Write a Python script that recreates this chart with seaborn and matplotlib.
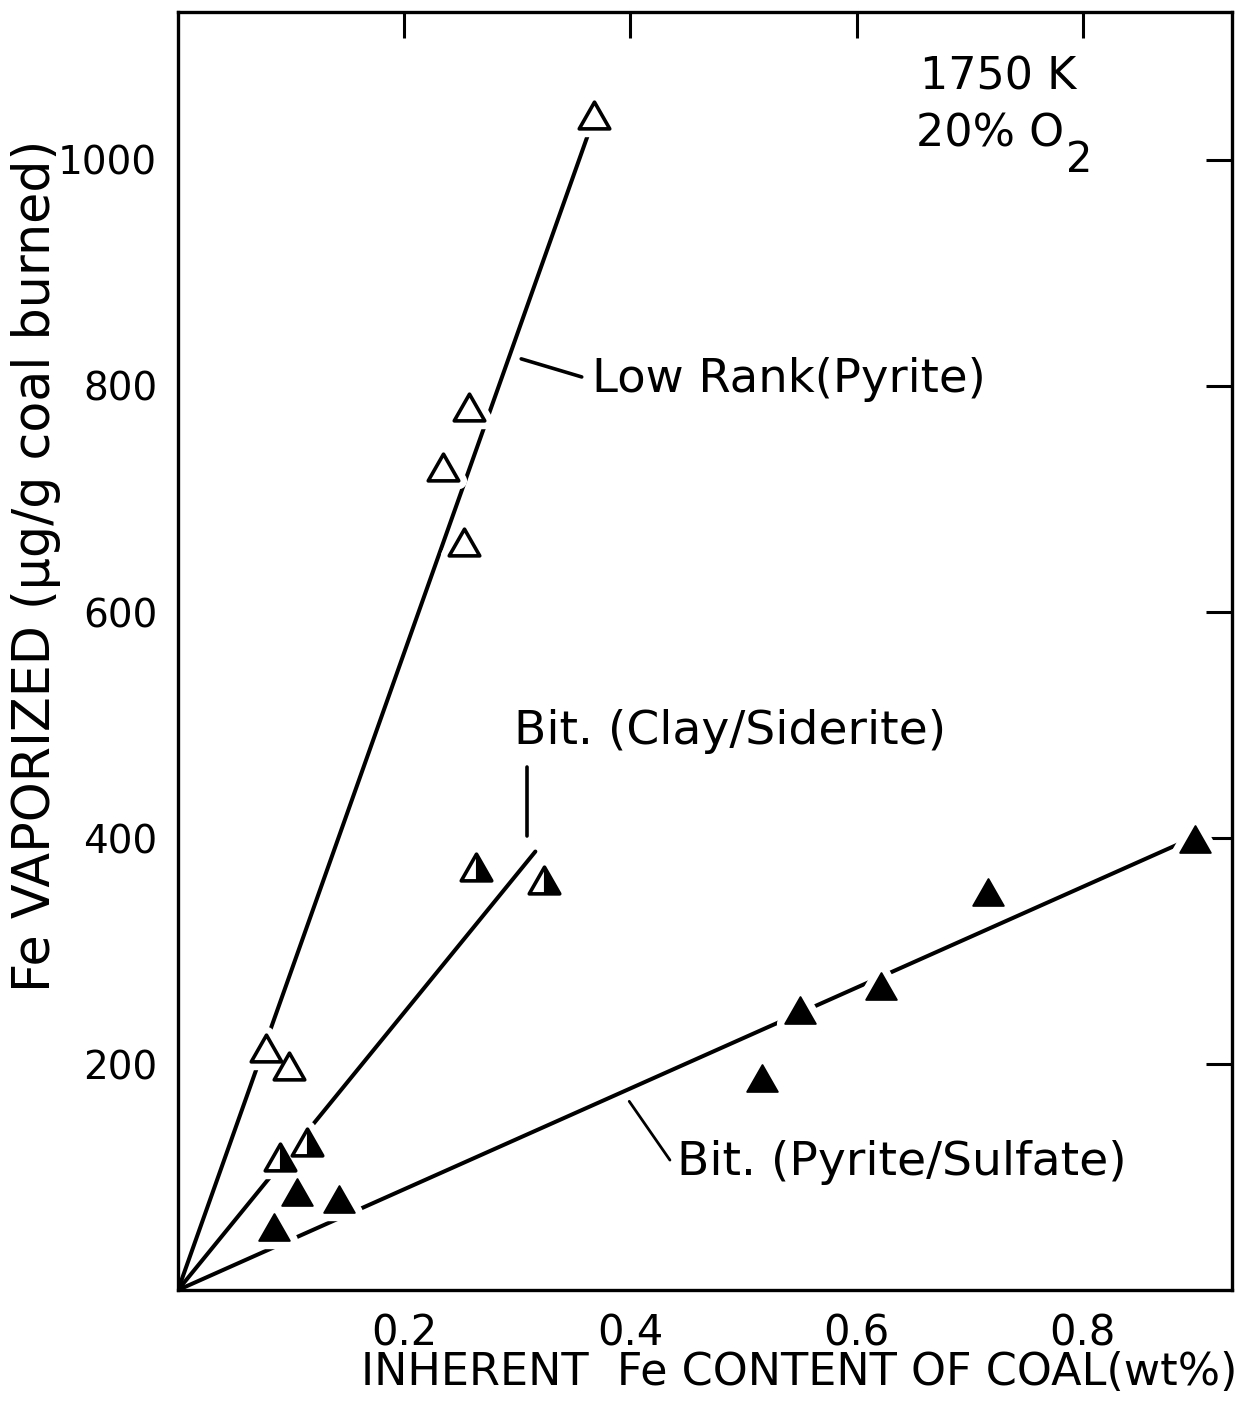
import matplotlib
matplotlib.use("Agg")
import matplotlib.pyplot as plt
import numpy as np
import pandas as pd
import seaborn as sns
from matplotlib.path import Path

# Inherent Fe content of coal (wt%) and Fe vaporized (µg/g coal burned)
low_rank_fe = [0.368, 0.2575, 0.2347, 0.253, 0.0779, 0.0985]
low_rank_vap = [1040, 781, 728, 662, 214, 198]

clay_fe = [0.2637, 0.324, 0.0905, 0.114]
clay_vap = [374, 363, 118, 131]

pyrite_fe = [0.8996, 0.716, 0.622, 0.5496, 0.516, 0.1425, 0.105, 0.085]
pyrite_vap = [399, 352, 269, 248, 188, 81, 87, 56]

# Straight trends through the origin: slope (µg/g per wt%) and where each ends
trend_names = ["Low Rank(Pyrite)", "Bit. (Clay/Siderite)", "Bit. (Pyrite/Sulfate)"]
trend_slopes = [2820, 1228, 446]
trend_ends = [0.364, 0.316, 0.888]

x_ticks = [0.2, 0.4, 0.6, 0.8]
y_ticks = [200, 400, 600, 800, 1000]
x_label = "INHERENT  Fe CONTENT OF COAL(wt%)"
y_label = "Fe VAPORIZED (µg/g coal burned)"

sns.set_theme(style="white")
plt.rcParams["font.family"] = ["DejaVu Sans"]
plt.rcParams["mathtext.fontset"] = "dejavusans"

fig = plt.figure(figsize=(12.5, 14.03), dpi=100)
ax = fig.add_axes([0.1424, 0.0805, 0.8432, 0.9110])

low_df = pd.DataFrame({"fe": low_rank_fe, "vap": low_rank_vap})
clay_df = pd.DataFrame({"fe": clay_fe, "vap": clay_vap})
pyr_df = pd.DataFrame({"fe": pyrite_fe, "vap": pyrite_vap})
all_df = pd.concat([low_df, clay_df, pyr_df], ignore_index=True)

# triangle marker, a little wider than tall, and its right half
tri = Path([(0, 0.875), (-1, -0.875), (1, -0.875), (0, 0.875)], closed=True)
tri_right = Path([(0, 0.875), (0, -0.875), (1, -0.875), (0, 0.875)], closed=True)
ms = 22.0
size = ms ** 2

# trend lines
for slope, end in zip(trend_slopes, trend_ends):
    xs = np.array([0.0, end])
    sns.lineplot(x=xs, y=slope * xs, color="black", linewidth=2.9,
                 ax=ax, zorder=2, solid_capstyle="round")

# white halo under every marker so the trend lines break around them
sns.scatterplot(data=all_df, x="fe", y="vap", marker=tri, s=size,
                color="white", edgecolor="white", linewidth=12, ax=ax,
                zorder=3, legend=False)

# open triangles: low-rank coals
sns.scatterplot(data=low_df, x="fe", y="vap", marker=tri, s=size,
                color="white", edgecolor="black", linewidth=2.6, ax=ax,
                zorder=4, legend=False)

# half-filled triangles: bituminous clay/siderite
sns.scatterplot(data=clay_df, x="fe", y="vap", marker=tri, s=size,
                color="white", edgecolor="black", linewidth=2.6, ax=ax,
                zorder=4, legend=False)
sns.scatterplot(data=clay_df, x="fe", y="vap", marker=tri_right, s=size,
                color="black", edgecolor="black", linewidth=0.8, ax=ax,
                zorder=5, legend=False)

# filled triangles: bituminous pyrite/sulfate
sns.scatterplot(data=pyr_df, x="fe", y="vap", marker=tri, s=size,
                color="black", edgecolor="black", linewidth=1.4, ax=ax,
                zorder=4, legend=False)

ax.set_xlim(0, 0.932)
ax.set_ylim(0, 1131)
ax.set_xticks(x_ticks)
ax.set_xticklabels([f"{v:.1f}" for v in x_ticks])
ax.set_yticks(y_ticks)
ax.set_yticklabels([str(v) for v in y_ticks])

for side in ["left", "right", "top", "bottom"]:
    ax.spines[side].set_visible(True)
    ax.spines[side].set_color("black")
    ax.spines[side].set_linewidth(2.4)

ax.tick_params(axis="both", which="major", direction="in", length=19,
               width=2.2, color="black", top=True, right=True,
               labelcolor="black")
ax.tick_params(axis="y", labelsize=28, pad=15)
ax.tick_params(axis="x", labelsize=30, pad=16)

ax.set_xlabel(x_label, fontsize=32, color="black", ha="right")
ax.xaxis.set_label_coords(1.005, -0.048)
ax.set_ylabel(y_label, fontsize=36.5, color="black")
ax.yaxis.set_label_coords(-0.111, 0.5665)

txt_kw = dict(color="black", va="center", ha="left")

# condition labels
ax.text(0.656, 1073, "1750 K", fontsize=32, **txt_kw)
t2 = ax.text(0.653, 1023, "20% O", fontsize=32, **txt_kw)
ax.annotate("2", xy=(1, 0), xycoords=t2, xytext=(1, -3),
            textcoords="offset points", fontsize=30, ha="left", va="center",
            color="black")

# series labels with leader lines
ax.text(0.366, 806, trend_names[0], fontsize=33.5, **txt_kw)
ax.plot([0.3035, 0.357], [824, 808], color="black", linewidth=2.6,
        solid_capstyle="round")

ax.text(0.297, 494, trend_names[1], fontsize=34, **txt_kw)
ax.plot([0.309, 0.309], [463, 402], color="black", linewidth=2.6,
        solid_capstyle="round")

ax.text(0.441, 113, trend_names[2], fontsize=34, **txt_kw)
ax.plot([0.399, 0.435], [167, 115], color="black", linewidth=2.0,
        solid_capstyle="round")

fig.savefig("out.png", dpi=100, facecolor="white")
